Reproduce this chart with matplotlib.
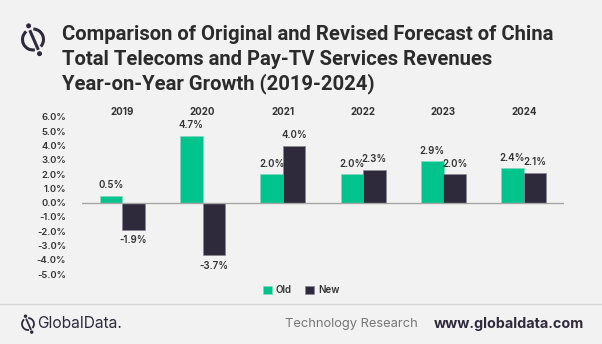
import matplotlib
matplotlib.use("Agg")
import matplotlib.pyplot as plt
import matplotlib.transforms as mtransforms
from matplotlib.patches import Arc, Circle
from matplotlib.lines import Line2D
import numpy as np

years = ["2019", "2020", "2021", "2022", "2023", "2024"]
old_vals = [0.5, 4.7, 2.0, 2.0, 2.9, 2.4]
new_vals = [-1.9, -3.7, 4.0, 2.3, 2.0, 2.1]
series_names = ["Old", "New"]
yticks = [6, 5, 4, 3, 2, 1, 0, -1, -2, -3, -4, -5]

GREEN = "#00c48c"
DARK = "#2e2a3c"
BG = "#f2f2f2"
TXT = "#333333"

W, H = 602, 344
fig = plt.figure(figsize=(W / 100, H / 100), dpi=100, facecolor=BG)
plt.rcParams['font.family'] = ['Inter', 'DejaVu Sans']

def fx(px):
    return px / W

def fy(py):
    return 1 - py / H

ax = fig.add_axes([fx(82), fy(274), fx(564) - fx(82), fy(117) - fy(274)])
ax.set_facecolor(BG)
x = np.arange(len(years))
bw = 0.28
b1 = ax.bar(x - bw / 2, old_vals, bw, color=GREEN, edgecolor="#7fdcbf", linewidth=0.5, label=series_names[0])
b2 = ax.bar(x + bw / 2, new_vals, bw, color=DARK, edgecolor="#8a8794", linewidth=0.5, label=series_names[1])
ax.set_xlim(-0.5, 5.5)
ax.set_ylim(-5, 6)
ax.axhline(0, color="#a6a6a6", linewidth=1.0, zorder=3)
for s in ax.spines.values():
    s.set_visible(False)
ax.set_xticks([])
ax.set_yticks(yticks)
ax.set_yticklabels([f"{v:.1f}%" for v in yticks], fontsize=6.8, fontweight="semibold", color=TXT)
ax.tick_params(axis="y", length=0, pad=11.5)

for bars, vals in ((b1, old_vals), (b2, new_vals)):
    for r, v in zip(bars, vals):
        cx = r.get_x() + r.get_width() / 2
        if v >= 0:
            ax.annotate(f"{v:.1f}%", (cx, v), xytext=(0, 4), textcoords="offset points",
                        ha="center", va="bottom", fontsize=7, fontweight="semibold", color=TXT)
        else:
            ax.annotate(f"{v:.1f}%", (cx, v), xytext=(0, -4), textcoords="offset points",
                        ha="center", va="top", fontsize=7, fontweight="semibold", color=TXT)

blend = mtransforms.blended_transform_factory(ax.transData, fig.transFigure)
for i, yr in enumerate(years):
    ax.text(i, fy(112), yr, transform=blend,
            ha="center", va="center", fontsize=7, fontweight="bold", color=TXT)

leg = fig.legend(handles=[b1, b2], labels=series_names, loc="center", bbox_to_anchor=(fx(301), fy(290)),
                 ncol=2, frameon=False, fontsize=7, handlelength=0.9, handleheight=0.9,
                 handletextpad=0.4, columnspacing=1.4)
for t in leg.get_texts():
    t.set_color(TXT)
    t.set_fontweight("semibold")

# Title
title_lines = ["Comparison of Original and Revised Forecast of China",
               "Total Telecoms and Pay-TV Services Revenues",
               "Year-on-Year Growth (2019-2024)"]
for ty, line in zip([35, 59.5, 84], title_lines):
    fig.text(fx(62), fy(ty), line, ha="left", va="center", fontsize=14.6, fontweight="bold",
             color="#2b2b2b", family=["Roboto", "DejaVu Sans"])

# Overlay for icons and separator
ov = fig.add_axes([0, 0, 1, 1], facecolor="none")
ov.set_xlim(0, W)
ov.set_ylim(H, 0)
ov.axis("off")

def icon(cx, cy, r, lw, col):
    # broken circle (gaps where the slash passes)
    ov.add_patch(Arc((cx, cy), 2 * r, 2 * r, theta1=80, theta2=230, color=col, lw=lw))
    ov.add_patch(Arc((cx, cy), 2 * r, 2 * r, theta1=272, theta2=402, color=col, lw=lw))
    ov.add_line(Line2D([cx - 0.25 * r, cx + 0.45 * r], [cy - 0.75 * r, cy + 0.85 * r], color=col, lw=lw))
    ov.add_patch(Circle((cx - 0.42 * r, cy - 1.3 * r), 0.17 * r, color=col))
    ov.add_patch(Circle((cx + 0.62 * r, cy + 1.35 * r), 0.17 * r, color=col))

icon(33, 39.5, 10.5, 2.2, DARK)
icon(28, 324, 6, 1.3, DARK)

# Separator
ov.add_line(Line2D([0, W], [303.5, 303.5], color="#d6d6d6", lw=1))

fig.text(fx(37), fy(324), "GlobalData.", ha="left", va="center", fontsize=11.2, color=DARK)
fig.text(fx(418), fy(324), "Technology Research", ha="right", va="center", fontsize=9.3, color="#777777")
fig.text(fx(434), fy(324), "www.globaldata.com", ha="left", va="center", fontsize=10.3, fontweight="bold", color=DARK)

fig.savefig("out.png", dpi=100, facecolor=BG)
